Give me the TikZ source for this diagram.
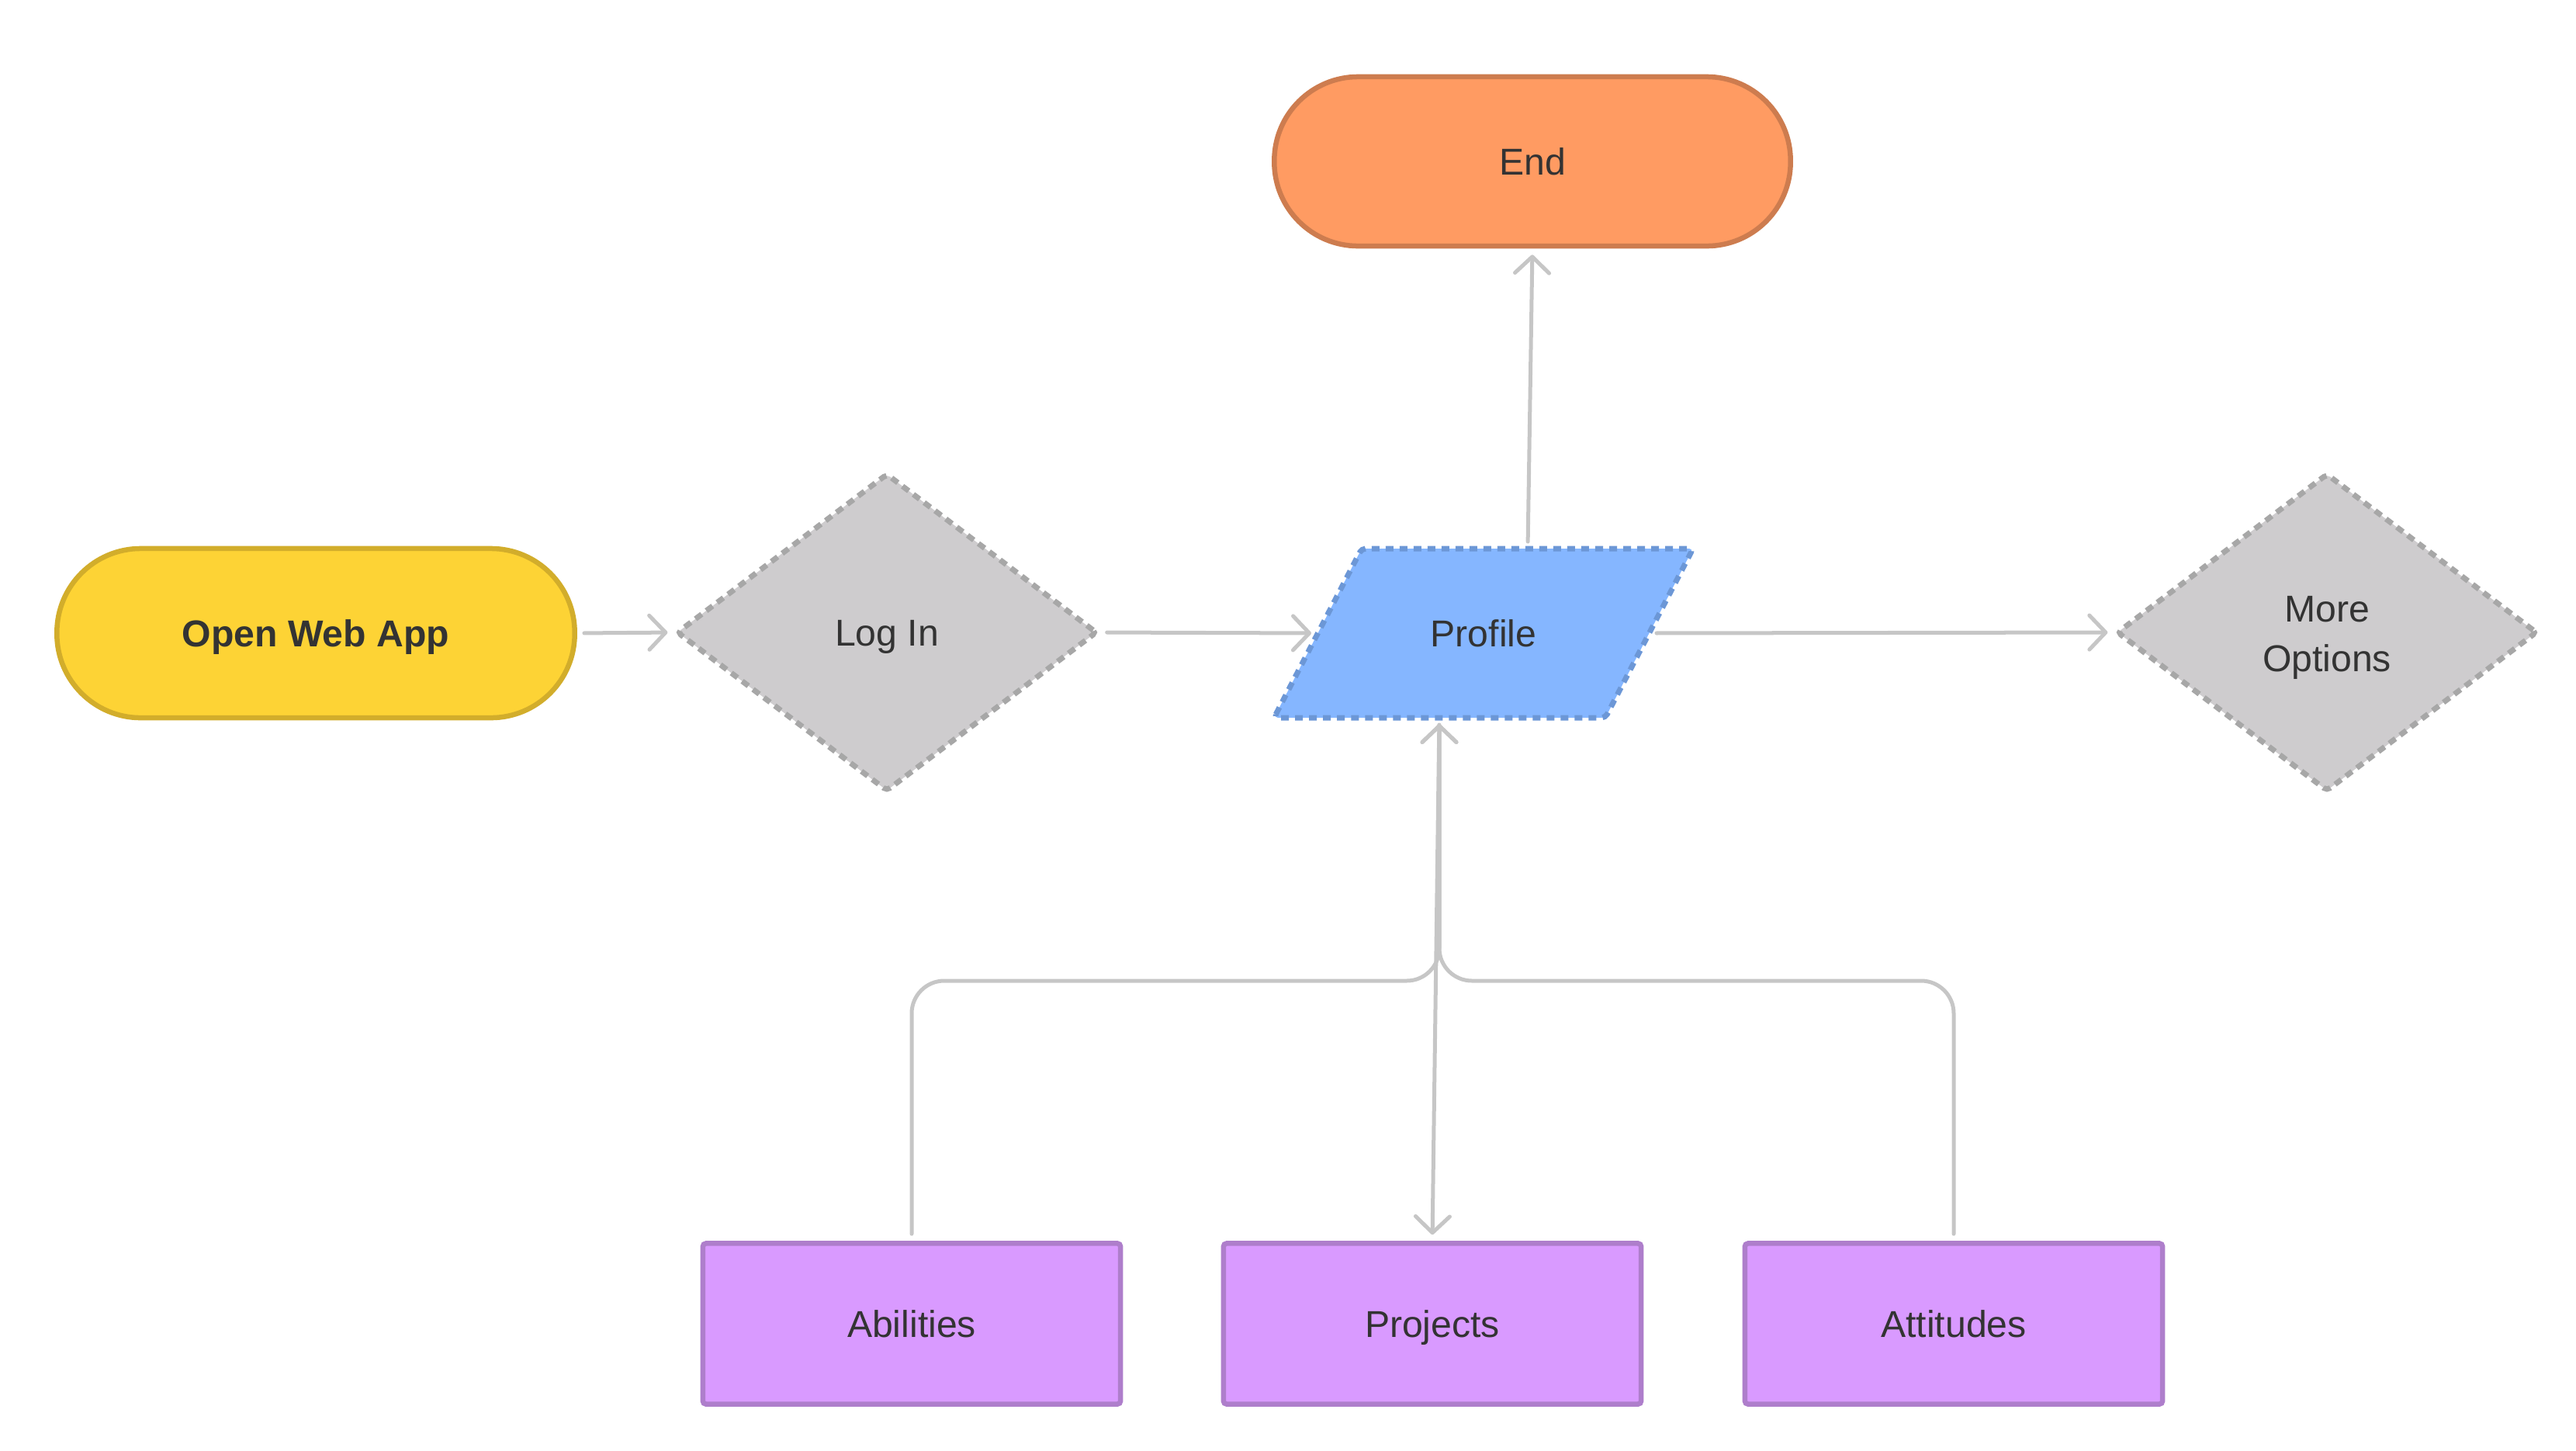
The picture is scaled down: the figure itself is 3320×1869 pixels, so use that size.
\documentclass[tikz,border=0pt]{standalone}
\usepackage{fontspec}
\setmainfont{Liberation Sans}
\usetikzlibrary{shapes.geometric,arrows.meta}

\definecolor{ink}{HTML}{333333}
\definecolor{startfill}{HTML}{FDD335}
\definecolor{startline}{HTML}{D2AD2B}
\definecolor{endfill}{HTML}{FF9B62}
\definecolor{endline}{HTML}{CD7C4F}
\definecolor{decfill}{HTML}{CECCCE}
\definecolor{decline}{HTML}{A7A7A7}
\definecolor{iofill}{HTML}{85B6FF}
\definecolor{ioline}{HTML}{6C97D6}
\definecolor{procfill}{HTML}{D99AFF}
\definecolor{procline}{HTML}{AE7ECB}
\definecolor{wire}{HTML}{C6C6C6}

\begin{document}
\begin{tikzpicture}[x=0.01cm, y=-0.01cm,
  txt/.style={text=ink, font=\fontsize{13.7}{18.2}\selectfont, align=center, inner sep=0pt},
  oneline/.style={text height=9.8pt, text depth=0pt},
  termbox/.style={txt, oneline, rectangle, rounded corners=1.08cm, minimum width=6.67cm,
    minimum height=2.18cm, line width=0.065cm},
  decbox/.style={txt, diamond, minimum width=5.42cm, minimum height=4.1cm,
    fill=decfill, draw=decline, line width=0.07cm, dash pattern=on 0.1cm off 0.075cm,
    rounded corners=0.05cm},
  ioshape/.style={fill=iofill, draw=ioline, line width=0.07cm,
    dash pattern=on 0.1cm off 0.08cm, rounded corners=0.05cm},
  procbox/.style={txt, oneline, rectangle, minimum width=5.38cm, minimum height=2.07cm,
    fill=procfill, draw=procline, line width=0.065cm, rounded corners=0.04cm},
  conn/.style={draw=wire, line width=0.05cm, line cap=round,
    -{Straight Barb[length=0.21cm, width=0.44cm, round]},
    shorten >=0.08cm, shorten <=0.09cm}
]
\useasboundingbox (0,0) rectangle (3320,1869);

% main row
\node[termbox, fill=startfill, draw=startline] (start) at (407,816) {\bfseries Open Web App};
\node[decbox, oneline] (login) at (1143,815) {Log In};

% profile: a parallelogram leaning right, with its four side midpoints
\draw[ioshape] (1642,925) -- (1755,707) -- (2182,707) -- (2069,925) -- cycle;
\node[txt, oneline] (profile) at (1912,816) {Profile};
\coordinate (profile-w) at (1698,816);
\coordinate (profile-e) at (2126,816);
\coordinate (profile-n) at (1969,707);
\coordinate (profile-s) at (1855,925);

\node[decbox] (more) at (2999,815) {};
\node[txt] (moretext) at (2999,822) {More\\Options};

% terminator on top
\node[termbox, minimum width=6.65cm, fill=endfill, draw=endline] (finish) at (1975,208) {End};

% profile sections
\node[procbox] (abilities) at (1175,1706) {Abilities};
\node[procbox] (projects) at (1846,1706) {Projects};
\node[procbox] (attitudes) at (2518,1706) {Attitudes};

% connectors
\draw[conn] (start.east) -- (login.west);
\draw[conn] (login.east) -- (profile-w);
\draw[conn] (profile-e) -- (more.west);
\draw[conn] (profile-n) -- (finish.south);
\draw[conn] (profile-s) -- (projects.north);

\coordinate (merge) at (profile-s |- 0,1264);
\draw[conn, rounded corners=0.42cm] (abilities.north) |- (merge) -- (profile-s);
\draw[conn, rounded corners=0.42cm] (attitudes.north) |- (merge) -- (profile-s);
\end{tikzpicture}
\end{document}
